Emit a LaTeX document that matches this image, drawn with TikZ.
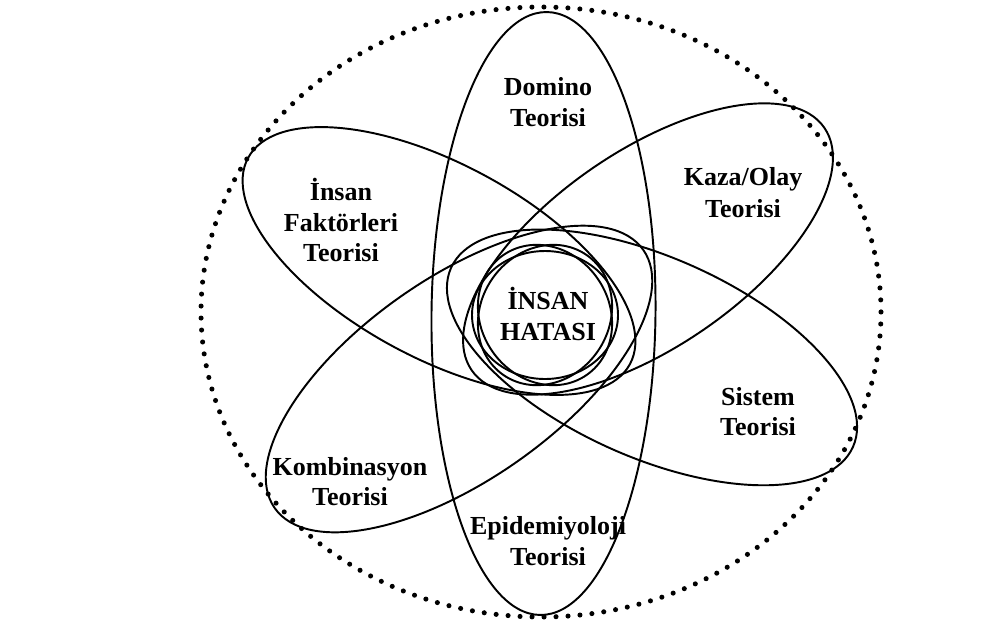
\documentclass[tikz,border=0pt]{standalone}
\usepackage{fontspec}
\setmainfont{Liberation Serif}
\begin{document}
\begin{tikzpicture}[x=0.75pt,y=-0.75pt,
  ring/.style={line width=1.45pt, black},
  dots/.style={line width=3.8pt, line cap=round, dash pattern=on 0pt off 9pt, black},
  lbl/.style={font=\fontsize{19.5}{23.5}\selectfont\bfseries, inner sep=0pt, anchor=base}]
\useasboundingbox (0,0) rectangle (984,625);
\fill[white] (0,0) rectangle (984,625);
% outer dotted ring
\draw[dots] (541,312) ellipse [x radius=340, y radius=305];
% vertical ellipse (Domino / Epidemiyoloji)
\draw[ring, rotate around={-0.64:(543.5,313.5)}] (543.5,313.5) ellipse [x radius=112, y radius=301.5];
% petals
\draw[ring, rotate around={-28.4:(439,261)}] (439,261) ellipse [x radius=217, y radius=97];   % Insan Faktorleri
\draw[ring, rotate around={34.5:(648,249)}] (648,249) ellipse [x radius=214, y radius=98];    % Kaza/Olay
\draw[ring, rotate around={-24:(652,357.4)}] (652,357.4) ellipse [x radius=220, y radius=100]; % Sistem
\draw[ring, rotate around={35:(459,379)}] (459,379) ellipse [x radius=225, y radius=101];     % Kombinasyon
% centre rings
\draw[ring] (545,315) ellipse [x radius=73, y radius=64];
\draw[ring, rotate around={55:(545,315)}] (545,315) ellipse [x radius=73, y radius=64];
\draw[ring, rotate around={-55:(545,315)}] (545,315) ellipse [x radius=73, y radius=64];
% labels
\node[lbl] (dom1) at (548,95) {Domino};
\node[lbl] (dom2) at (548,126) {Teorisi};
\node[lbl] (ins1) at (341,200) {İnsan};
\node[lbl] (ins2) at (341,231.7) {Faktörleri};
\node[lbl] (ins3) at (341,261.7) {Teorisi};
\node[lbl] (kaz1) at (743,185) {Kaza/Olay};
\node[lbl] (kaz2) at (743,217) {Teorisi};
\node[lbl] (hat1) at (548,309) {İNSAN};
\node[lbl] (hat2) at (548,340.7) {HATASI};
\node[lbl] (sis1) at (758,405) {Sistem};
\node[lbl] (sis2) at (758,435) {Teorisi};
\node[lbl] (kom1) at (350,475) {Kombinasyon};
\node[lbl] (kom2) at (350,505) {Teorisi};
\node[lbl] (epi1) at (548,534) {Epidemiyoloji};
\node[lbl] (epi2) at (548,565) {Teorisi};
\end{tikzpicture}
\end{document}
